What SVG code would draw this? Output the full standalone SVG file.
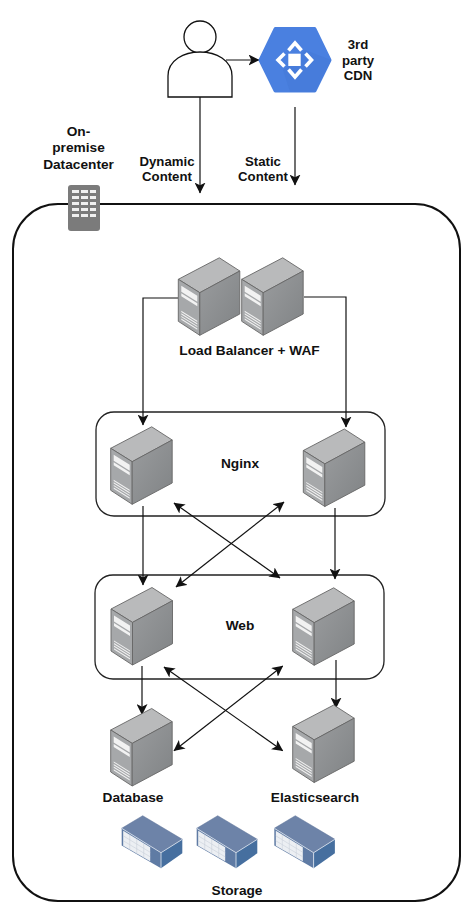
<svg xmlns="http://www.w3.org/2000/svg" width="470" height="912" viewBox="0 0 470 912">
<style>
text{font-family:"Liberation Sans",Arial,sans-serif;font-weight:bold;font-size:13.700px;fill:#111;text-anchor:middle}
.s{font-size:13.200px}
.c{fill:none;stroke:#111;stroke-width:1.2}
.box{fill:none;stroke:#222;stroke-width:1.3}
.chev{fill:none;stroke:#fff;stroke-width:3.600}
.grid{fill:none;stroke:#c9d0da;stroke-width:.6}
</style>
<defs>
<marker id="a" viewBox="0 0 10 10" refX="9.500" refY="5" markerWidth="11" markerHeight="11" markerUnits="userSpaceOnUse" orient="auto-start-reverse"><path d="M0 0L10 5L0 10L2.500 5Z" fill="#111"/></marker>
<linearGradient id="side" x1="0" y1="0" x2="1" y2="1"><stop offset="0" stop-color="#9a9c9e"/><stop offset="1" stop-color="#808385"/></linearGradient>
<g id="server">
<path d="M0 0L41 -21.500L61.500 -8.300L21.500 13.400Z" fill="#b9babb" stroke="#666" stroke-width=".9"/>
<path d="M0 0L21.500 13.400V56L0 42Z" fill="#a6a8aa" stroke="#666" stroke-width=".9"/>
<path d="M21.500 13.400L61.500 -8.300V34.700L21.500 56Z" fill="url(#side)" stroke="#666" stroke-width=".9"/>
<path d="M3 6.500L19 16.500V22.500L3 12.500ZM3 14L19 24V27L3 17Z" fill="#f2f2f2"/>
<path d="M3 34L19 44V45.200L3 35.200ZM3 36.600L19 46.600V47.800L3 37.800ZM3 39.200L19 49.200V50.400L3 40.400ZM3 31.400L19 41.400V42.600L3 32.600Z" fill="#f2f2f2"/>
</g>
<g id="storage">
<path d="M0 0L21 -12.600L60.600 11L39.300 24.400Z" fill="#6d83a8" stroke="#5a7096" stroke-width=".5"/>
<path d="M0 0L39.300 24.400V40L0 17.300Z" fill="#5f7ba4"/>
<path d="M39.300 24.400L60.600 11V25L39.300 40Z" fill="#466f9f"/>
<path d="M1.500 2.500L28.500 19V33L1.500 17.500Z" fill="#eceff3"/>
<path class="grid" d="M1.500 7.500L28.500 24M1.500 12.500L28.500 28.500M8 6.500V21.500M15 10.500V25.500M22 15V29.500"/>
<path d="M0 0L39.300 24.400V40M39.300 24.400L60.600 11" fill="none" stroke="#d5deea" stroke-width=".9"/>
</g>
</defs>
<rect width="470" height="912" fill="#fff"/>
<g id="datacenter-boundary"><rect x="13" y="204" width="447" height="697" rx="45" fill="none" stroke="#111" stroke-width="2"/></g>
<g id="nginx-group"><rect class="box" x="96" y="412" width="289" height="104" rx="18"/><text x="240" y="468">Nginx</text></g>
<g id="web-group"><rect class="box" x="95" y="575" width="289" height="104" rx="18"/><text x="240" y="630">Web</text></g>
<g id="connectors">
<path class="c" d="M200 96V193" marker-end="url(#a)"/>
<path class="c" d="M226 60H259" marker-end="url(#a)"/>
<path class="c" d="M295 107V185" marker-end="url(#a)"/>
<path class="c" d="M178 298H143V425" marker-end="url(#a)"/>
<path class="c" d="M304 297H346V427" marker-end="url(#a)"/>
<path class="c" d="M143 506V585" marker-end="url(#a)"/>
<path class="c" d="M335 508V579" marker-end="url(#a)"/>
<path class="c" d="M174 503L280 578" marker-start="url(#a)" marker-end="url(#a)"/>
<path class="c" d="M284 502L176 587" marker-start="url(#a)" marker-end="url(#a)"/>
<path class="c" d="M142 666V714.500" marker-end="url(#a)"/>
<path class="c" d="M336 660V708" marker-end="url(#a)"/>
<path class="c" d="M164 667L282.700 750.700" marker-start="url(#a)" marker-end="url(#a)"/>
<path class="c" d="M282.700 666L174 750.700" marker-start="url(#a)" marker-end="url(#a)"/>
</g>
<g id="user"><circle cx="200" cy="37" r="16" fill="#fff" stroke="#111" stroke-width="1.300"/><path d="M168 97V76C168 60 184 52 200 52C216 52 232 60 232 76V97Z" fill="#fff" stroke="#111" stroke-width="1.300"/></g>
<g id="cdn">
<path d="M260.500 60L275.500 29H314.500L329.500 60L314.500 90.500H275.500Z" fill="#4a80e0" stroke="#4a80e0" stroke-width="4" stroke-linejoin="round"/>
<path d="M305 50L331 60L315 92H290L283 70Z" fill="#4477d6" opacity=".5"/>
<path d="M288.300 53.700H300.700V66H288.300Z" fill="#fff"/>
<path class="chev" d="M288.500 50.500L295 43L301.500 50.500M288.500 69.500L295 77L301.500 69.500M284.500 53.500L278 60L284.500 66.500M305.500 53.500L311.500 60L305.500 66.500"/>
<text class="s" x="358" y="49">3rd</text><text class="s" x="358" y="64.500">party</text><text class="s" x="358" y="80">CDN</text>
</g>
<g id="dynamic-label"><text class="s" x="167" y="166">Dynamic</text><text class="s" x="167" y="181">Content</text></g>
<g id="static-label"><text class="s" x="263" y="166">Static</text><text class="s" x="263" y="181">Content</text></g>
<g id="onprem">
<text x="78.500" y="136">On-</text><text x="78.500" y="152">premise</text><text x="78.500" y="169">Datacenter</text>
<rect x="68" y="185" width="32" height="46" rx="3" fill="#7b7b7b"/>
<path d="M72 190H79V193H72ZM81 190H88V193H81ZM90 190H96V193H90ZM72 196H79V199H72ZM81 196H88V199H81ZM90 196H96V199H90ZM72 202H79V205H72ZM81 202H88V205H81ZM90 202H96V205H90ZM72 208H79V211H72ZM81 208H88V211H81ZM90 208H96V211H90ZM72 214H79V217H72ZM81 214H88V217H81ZM90 214H96V217H90Z" fill="#f0f0f0"/>
</g>
<g id="load-balancer">
<use href="#server" transform="translate(178.300 279.300)"/>
<use href="#server" transform="translate(241.700 279.300)"/>
<text x="249.500" y="355">Load Balancer + WAF</text>
</g>
<g id="nginx-1"><use href="#server" transform="translate(110.700 448.300)"/></g>
<g id="nginx-2"><use href="#server" transform="translate(303.300 450.500)"/></g>
<g id="web-1"><use href="#server" transform="translate(111 609)"/></g>
<g id="web-2"><use href="#server" transform="translate(292.700 609.300)"/></g>
<g id="database"><use href="#server" transform="translate(110.700 730)"/><text x="133" y="802">Database</text></g>
<g id="elasticsearch"><use href="#server" transform="translate(292.700 726.500)"/><text x="315" y="802">Elasticsearch</text></g>
<g id="storage-1"><use href="#storage" transform="translate(121.700 828.300)"/></g>
<g id="storage-2"><use href="#storage" transform="translate(196.700 828.300)"/></g>
<g id="storage-3"><use href="#storage" transform="translate(274.300 828.300)"/></g>
<g id="storage-label"><text x="237" y="895">Storage</text></g>
</svg>
